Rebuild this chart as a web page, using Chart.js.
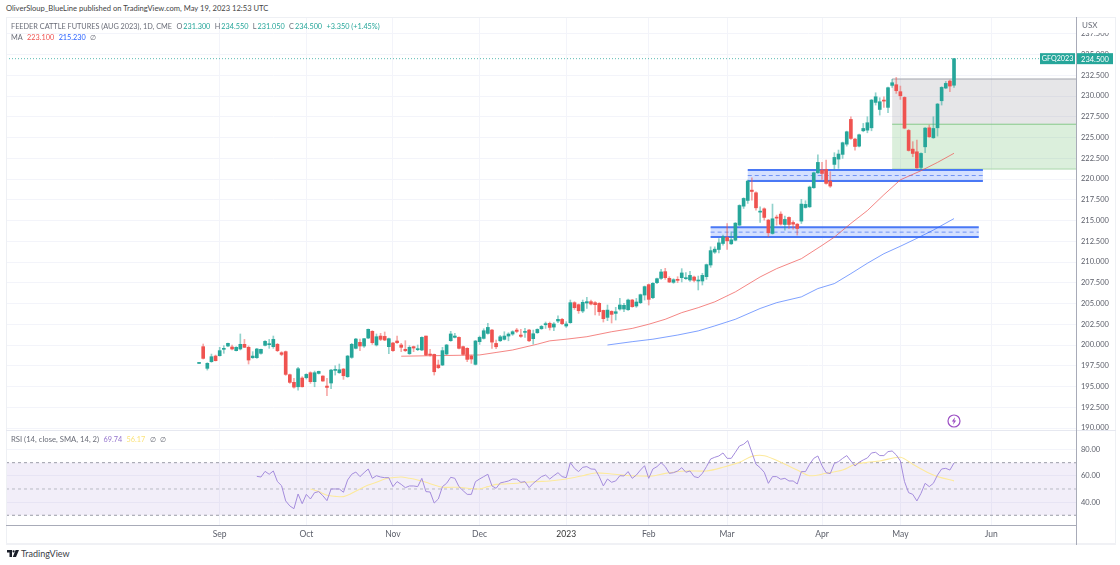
<!DOCTYPE html>
<html>
<head>
<meta charset="utf-8">
<script src="https://cdn.jsdelivr.net/npm/chart.js@4/dist/chart.umd.min.js"></script>
<style>
html, body { margin: 0; padding: 0; background: #fff; width: 1120px; height: 565px; overflow: hidden; }
body { font-family: Lato, sans-serif; color: #6a6d78; position: relative; }
.box { position: absolute; }
.txt { position: absolute; font-size: 7.3px; line-height: 11px; white-space: nowrap; }
.txt span { margin-left: 4.4px; }
.txt span.name { margin-left: 0; }
.txt span.val { margin-left: 1px; color: #26a69a; }
.up { color: #26a69a; }
</style>
</head>
<body>
<div class="txt" style="left:6px;top:3px;font-size:7.6px;color:#444;">OliverSloup_BlueLine published on TradingView.com, May 19, 2023 12:53 UTC</div>

<div class="box" style="left:6px;top:17px;width:1110px;height:414px;"><canvas id="priceChart"></canvas></div>
<div class="box" style="left:6px;top:431px;width:1110px;height:112px;"><canvas id="rsiChart"></canvas></div>

<!-- panel frame -->
<div class="box" style="left:6px;top:17px;width:1109px;height:1px;background:#eef0f4;"></div>
<div class="box" style="left:6px;top:17px;width:1px;height:526px;background:#eef0f4;"></div>
<div class="box" style="left:1115px;top:17px;width:1px;height:526px;background:#eef0f4;"></div>
<div class="box" style="left:6px;top:430px;width:1110px;height:1px;background:#e6e8f0;"></div>
<div class="box" style="left:6px;top:525px;width:1070px;height:1px;background:#a8abb8;"></div>
<div class="box" style="left:6px;top:543px;width:1110px;height:2px;background:#f0f1f5;"></div>
<div class="box" style="left:1076px;top:17px;width:1px;height:528px;background:#a8abb8;"></div>

<div class="box" style="left:1077px;top:18px;width:38px;height:15px;background:#fff;"></div>
<div class="txt" style="left:1082px;top:20px;font-size:8px;">USX</div>

<div class="txt" style="left:11px;top:21px;"><span class="name">FEEDER CATTLE FUTURES (AUG 2023), 1D, CME</span><span>O</span><span class="val">231.300</span><span>H</span><span class="val">234.550</span><span>L</span><span class="val">231.050</span><span>C</span><span class="val">234.500</span><span class="up">+3.350 (+1.45%)</span></div>
<div class="txt" style="left:11px;top:32px;"><span class="name">MA</span><span style="color:#ef5350">223.100</span><span style="color:#2962ff">215.230</span><span>∅</span></div>
<div class="txt" style="left:11px;top:434px;"><span class="name" style="font-size:7.7px">RSI (14, close, SMA, 14, 2)</span><span style="color:#9575cd">69.74</span><span style="color:#fbe37c">56.17</span><span>∅</span><span>∅</span></div>

<!-- bolt badge -->
<svg class="box" style="left:947px;top:414px;" width="14" height="14" viewBox="0 0 14 14">
  <circle cx="7" cy="7" r="6" fill="#fff" stroke="#9c4fc4" stroke-width="1.2"/>
  <path d="M8 3.2 L4.8 7.6 H6.7 L6 10.8 L9.2 6.4 H7.3 Z" fill="#9c4fc4"/>
</svg>

<!-- footer logo -->
<svg class="box" style="left:7px;top:550px;" width="12" height="8" viewBox="0 0 12 8">
  <path d="M0 0 H5 V7 H2.5 V2.5 H0 Z M5.8 7 L8.6 0 H12 L9 7 Z" fill="#1b1f2a"/>
  <circle cx="6.6" cy="1.4" r="1.1" fill="#1b1f2a"/>
</svg>
<div class="txt" style="left:21px;top:548px;font-size:9px;color:#3a3d46;">TradingView</div>

<script>
// Feeder cattle Aug 2023, daily bars
const opens = [
    197.78,199.80,197.19,197.99,198.67,198.71,199.48,199.88,199.76,199.32,
    199.52,200.08,199.72,198.47,198.47,199.0,199.96,200.04,199.8,200.08,
    199.07,199.2,196.42,195.5,194.97,196.02,196.06,196.66,195.58,196.58,
    196.26,195.05,195.42,196.94,196.66,197.1,196.18,198.51,199.6,200.32,
    199.88,200.84,201.65,200.0,201.08,201.04,199.8,200.24,200.48,200.0,
    199.48,198.95,199.8,199.44,199.4,201.08,198.87,198.87,197.59,197.59,
    198.91,200.52,200.92,200.92,199.8,199.6,198.67,197.67,200.4,200.8,
    201.4,201.8,200.19,200.51,200.68,201.08,201.32,201.8,201.2,201.52,
    201.8,200.76,201.48,201.96,202.44,202.61,202.16,202.89,203.09,202.29,
    202.69,205.1,204.86,204.09,205.06,205.22,205.1,205.02,204.17,203.33,
    204.05,203.81,204.33,204.33,204.25,205.42,204.7,205.1,206.02,207.27,
    205.7,207.51,208.03,208.84,208.03,207.55,207.91,208.11,207.99,207.83,
    208.19,207.71,207.71,208.23,209.64,211.19,211.51,212.23,212.96,212.19,
    212.63,214.44,216.73,217.42,218.66,218.34,216.01,216.41,215.05,213.44,
    215.37,215.77,214.52,215.37,214.76,214.56,214.93,216.57,216.65,218.95,
    220.75,221.08,221.16,219.75,221.76,222.4,222.97,224.2,227.18,224.81,
    223.96,225.81,225.89,226.17,229.23,228.38,229.51,228.63,231.28,231.36,
    230.52,229.83,225.85,223.6,223.28,221.39,223.88,226.17,224.97,226.17,
    229.43,230.96,231.8,231.3
];
const highs = [
    197.85,200.12,197.87,198.91,198.79,199.72,199.92,200.24,200.0,199.8,
    201.33,200.68,199.88,199.2,199.6,199.52,200.52,200.68,201.08,200.2,
    199.2,199.28,196.5,195.98,197.3,196.18,196.54,196.78,196.86,196.86,
    196.3,195.98,197.06,197.5,197.71,197.18,198.75,200.2,200.8,200.72,
    200.8,201.93,201.73,201.33,201.41,201.57,200.84,200.32,201.08,200.2,
    200.52,199.92,199.88,200.0,201.0,201.08,199.48,198.91,198.19,199.72,
    200.08,201.65,201.41,201.0,199.88,199.68,198.79,200.56,201.08,201.96,
    202.61,201.88,200.6,201.16,201.6,201.48,201.72,202.0,201.88,202.0,
    201.88,201.8,201.96,202.36,202.77,202.77,202.69,203.53,203.21,202.81,
    205.42,205.22,204.94,205.42,205.74,205.42,205.22,205.1,204.21,204.82,
    204.13,204.54,205.62,205.02,205.54,205.5,205.62,206.14,207.11,207.35,
    207.51,208.07,209.12,209.24,208.23,207.99,208.23,209.2,208.72,208.88,
    208.31,208.31,208.64,209.76,211.83,211.83,212.83,213.24,214.64,213.64,
    214.76,216.9,217.74,219.87,220.15,218.46,216.65,216.53,215.13,216.98,
    215.65,216.05,215.53,215.45,214.97,214.64,217.54,217.38,219.15,220.83,
    222.9,222.0,222.28,220.88,223.17,223.49,224.45,225.77,227.5,224.89,
    225.41,226.7,227.5,229.59,230.39,229.79,229.91,231.08,232.0,232.24,
    231.2,229.91,225.97,224.5,224.69,223.16,226.21,226.5,227.5,229.11,
    231.12,231.76,231.92,234.55
];
const lows = [
    197.75,198.31,196.98,197.91,198.07,198.67,199.0,199.8,199.4,199.28,
    199.4,199.68,197.71,198.39,198.39,198.91,199.88,199.6,199.6,199.2,
    198.71,196.34,195.38,194.81,194.57,194.93,195.9,195.38,194.97,196.5,
    195.62,193.89,194.73,196.38,196.58,195.86,196.1,198.39,199.52,199.32,
    199.72,200.76,200.08,199.88,200.52,200.52,198.95,199.24,200.2,199.2,
    199.2,198.87,199.2,199.32,199.32,198.71,198.67,196.38,197.15,197.51,
    198.83,200.44,200.84,199.52,198.79,197.99,197.79,197.59,200.07,200.72,
    201.32,199.59,199.55,200.43,200.6,200.51,201.16,201.48,200.92,200.92,
    200.4,200.11,201.4,201.88,202.0,201.8,201.72,202.69,202.45,202.12,
    202.61,204.29,203.81,203.89,204.42,204.82,203.61,203.57,202.77,202.93,
    202.65,203.01,204.21,204.01,204.17,204.54,204.54,204.98,205.42,204.82,
    205.58,207.39,207.91,207.91,207.51,207.43,207.51,207.59,207.91,207.67,
    207.59,206.63,207.23,207.91,209.36,211.03,211.11,212.03,211.51,212.11,
    212.55,214.4,216.45,217.06,217.46,216.25,214.76,215.05,213.04,213.36,
    214.44,214.44,213.84,214.04,213.96,213.24,214.64,216.49,216.57,218.87,
    220.67,219.95,219.39,218.99,221.16,221.28,222.48,223.96,224.77,223.48,
    223.88,225.69,225.57,225.81,228.91,227.7,228.63,227.98,231.04,230.31,
    229.59,226.05,223.36,222.68,221.27,221.15,223.16,225.01,224.89,225.17,
    228.91,230.88,230.52,231.05
];
const closes = [
    197.82,198.39,197.79,198.59,198.11,199.32,199.60,200.2,199.52,199.72,
    200.08,199.72,198.19,198.67,199.52,199.48,200.44,200.12,200.68,199.32,
    198.87,196.46,195.5,194.93,197.14,194.97,196.46,195.58,196.66,196.82,
    195.66,194.89,196.98,197.06,197.02,196.3,198.67,200.08,200.72,199.88,
    200.76,201.89,200.28,201.0,200.68,200.6,200.76,199.32,200.28,199.72,
    199.32,199.72,199.64,199.52,200.92,198.79,198.79,196.78,197.27,199.32,
    200.0,201.33,201.08,199.6,198.87,198.27,198.31,200.48,200.92,201.72,
    202.12,200.35,199.79,200.99,201.08,201.32,201.6,201.64,201.04,201.64,
    200.51,201.36,201.88,202.24,202.57,202.12,202.53,203.09,202.57,202.53,
    205.1,204.5,204.13,205.14,205.22,204.94,204.86,204.01,203.17,204.21,
    203.69,204.01,204.82,204.78,205.42,204.62,205.18,206.06,207.03,205.5,
    207.43,207.99,208.8,208.11,207.59,207.87,207.79,208.68,208.11,208.39,
    207.79,207.83,208.39,209.68,211.37,211.55,212.31,213.04,212.55,212.67,
    214.68,216.81,217.66,219.75,218.5,216.53,216.13,215.37,213.52,215.21,
    215.29,214.56,215.13,214.52,214.56,214.04,216.98,216.94,219.03,220.75,
    222.0,220.67,219.47,219.15,222.6,223.01,224.37,225.69,224.89,223.92,
    225.33,226.09,226.78,229.51,229.91,229.31,229.39,231.0,231.6,230.64,
    230.03,226.13,223.44,223.08,221.35,223.08,226.13,225.09,226.09,229.03,
    231.04,231.52,231.2,234.5
];

// moving averages, read at the bar numbers beside them
const ma50Bars = [49,68,72,76,82,85,89,94,100,105,109,113,117,121,125,130,136,140,146,151,154,158,162,166,170,175,179,183];
const ma50Values = [198.65,198.8,199.1,199.4,200.1,200.5,200.7,201.0,201.6,202.0,202.5,203.1,203.9,204.5,205.2,206.4,208.2,209.2,210.4,212.0,213.0,214.65,216.2,218.1,219.9,221.0,222.0,223.1];
const ma100Bars = [99,105,110,116,121,125,130,136,140,146,150,154,158,162,166,170,174,178,183];
const ma100Values = [200.0,200.4,200.7,201.2,201.7,202.3,203.1,204.4,205.1,205.8,206.8,207.4,208.6,209.85,211.0,211.9,212.85,213.85,215.23];

// RSI starts at bar 14
const rsiFirstBar = 14;
const rsiValues = [
    59.6,59.1,63.4,61.2,63.7,55.6,52.5,40.9,37.1,35.0,
    46.2,38.8,45.9,42.4,47.2,48.0,44.9,41.1,50.0,50.0,
    50.0,47.5,56.8,61.2,62.9,59.4,62.4,65.2,58.1,60.1,
    59.1,58.6,58.6,51.8,55.6,53.5,51.0,52.3,52.3,51.8,
    58.1,48.0,47.7,39.3,42.4,51.8,54.3,58.9,58.1,51.8,
    48.7,45.9,45.9,55.6,57.6,59.4,61.2,52.3,50.5,54.6,
    55.3,56.1,57.6,57.4,55.1,55.6,51.0,54.3,56.8,59.4,
    60.6,57.6,60.1,62.4,59.4,58.6,70.0,65.7,63.2,66.5,
    67.0,65.2,65.0,59.4,52.3,57.6,55.1,56.1,60.1,59.9,
    63.2,58.1,60.6,64.4,67.7,58.1,65.2,67.0,70.0,67.0,
    61.9,62.4,63.7,66.2,62.7,63.7,59.4,58.6,61.9,67.0,
    72.8,74.1,75.1,77.4,73.3,73.3,77.9,82.7,84.0,86.8,
    77.9,68.8,66.2,62.7,54.3,59.4,59.4,57.4,58.1,56.1,
    56.1,53.8,63.2,63.2,68.8,73.3,75.1,67.7,62.4,61.7,
    69.5,70.8,73.3,75.4,71.3,67.5,70.3,72.1,73.6,77.4,
    77.9,75.4,75.4,78.4,78.9,75.9,71.3,55.6,47.2,45.9,
    40.9,46.7,54.3,51.8,54.3,60.6,65.2,65.7,64.4,69.74
];
const rsiMaBars = [27,29,31,33,35,37,39,41,43,45,47,49,51,53,55,57,59,61,63,65,68,70,72,74,77,78,82,85,89,93,96,100,105,110,113,118,123,127,131,134,137,141,145,148,152,156,159,162,165,170,173,177,179,183];
const rsiMaValues = [50.0,48.0,45.2,44.4,44.2,46.7,50.0,53.0,55.1,57.6,58.6,59.1,58.1,56.8,55.1,53.0,51.3,51.3,51.3,50.5,50.0,51.8,53.5,53.8,54.3,54.8,55.6,56.1,57.6,60.1,62.2,61.4,60.1,59.9,61.9,63.7,63.7,66.5,70.3,74.8,75.3,70.3,64.4,60.1,61.9,64.4,68.8,70.3,71.3,74.1,68.8,61.9,59.4,56.17];

// time axis
const monthBars = [5,26,47,68,89,109,128,151,170,192];
const monthLabels = ['Sep','Oct','Nov','Dec','2023','Feb','Mar','Apr','May','Jun'];

// price axis
const priceTicks = [190,192.5,195,197.5,200,202.5,205,207.5,210,212.5,215,217.5,220,222.5,225,227.5,230,232.5,235,237.5];
const rsiTicks = [40,60,80];
const rsiLevels = [30,50,70];

// long position tool and the two support bands
const positionFromBar = 168;
const positionTop = 232.05;
const positionEntry = 226.6;
const positionBottom = 221.2;
const bandFromBars = [133,124];
const bandToBars = [190,189];
const bandTops = [221.08,214.2];
const bandBottoms = [219.76,213.0];

const lastPrice = closes[closes.length - 1];
const tickerName = 'GFQ2023';

const GREEN = '#26a69a';
const RED = '#ef5350';
const GRID = '#f3f4fa';
const AXIS_TEXT = '#5d606b';
const X_MIN = -46.8;
const X_MAX = 212.57;
const FONT = 'Lato, sans-serif';

function alpha(hex, a) {
    const r = parseInt(hex.slice(1, 3), 16);
    const g = parseInt(hex.slice(3, 5), 16);
    const b = parseInt(hex.slice(5, 7), 16);
    return `rgba(${r},${g},${b},${a})`;
}

function pairs(bars, values) {
    return bars.map((b, i) => ({ x: b, y: values[i] }));
}

function timeAxis(showLabels) {
    return {
        type: 'linear',
        min: X_MIN,
        max: X_MAX,
        offset: false,
        border: { display: false },
        grid: { color: GRID, drawTicks: false, offset: false },
        afterBuildTicks: scale => { scale.ticks = monthBars.map(v => ({ value: v })); },
        afterFit: scale => {
            scale.height = showLabels ? 18 : 0;
            scale.paddingLeft = 0;
            scale.paddingRight = 0;
        },
        ticks: {
            display: showLabels,
            autoSkip: false,
            maxRotation: 0,
            padding: 4,
            color: ctx => ctx.index === 4 ? '#333' : AXIS_TEXT,
            font: { family: FONT, size: 8.5 },
            callback: (v, i) => monthLabels[i],
        },
    };
}

function valueAxis(min, max, ticks, digits) {
    return {
        position: 'right',
        min,
        max,
        border: { display: false },
        grid: { color: GRID, drawTicks: false },
        afterBuildTicks: scale => { scale.ticks = ticks.map(v => ({ value: v })); },
        afterFit: scale => {
            scale.width = 40;
            scale.paddingTop = 0;
            scale.paddingBottom = 0;
        },
        ticks: {
            autoSkip: false,
            padding: 5,
            color: AXIS_TEXT,
            font: { family: FONT, size: 7.5 },
            callback: v => v.toFixed(digits),
        },
    };
}

const priceOverlays = {
    id: 'priceOverlays',
    beforeDatasetsDraw(chart) {
        const { ctx, chartArea, scales: { x, y } } = chart;
        const fill = (x0, x1, top, bottom, color) => {
            ctx.fillStyle = color;
            ctx.fillRect(x0, y.getPixelForValue(top), x1 - x0, y.getPixelForValue(bottom) - y.getPixelForValue(top));
        };
        const hline = (x0, x1, value, color, width, dash) => {
            const py = y.getPixelForValue(value);
            ctx.beginPath();
            ctx.setLineDash(dash || []);
            ctx.strokeStyle = color;
            ctx.lineWidth = width;
            ctx.moveTo(x0, py);
            ctx.lineTo(x1, py);
            ctx.stroke();
            ctx.setLineDash([]);
        };
        ctx.save();
        const left = x.getPixelForValue(positionFromBar);
        fill(left, chartArea.right, positionTop, positionEntry, 'rgba(120,123,134,0.19)');
        fill(left, chartArea.right, positionEntry, positionBottom, 'rgba(76,175,80,0.2)');
        hline(left, chartArea.right, positionTop, '#a3a5ad', 1);
        hline(left, chartArea.right, positionEntry, '#86c98a', 1);
        hline(left, chartArea.right, positionBottom, '#a9d8ab', 1);

        bandTops.forEach((top, i) => {
            const x0 = x.getPixelForValue(bandFromBars[i]);
            const x1 = x.getPixelForValue(bandToBars[i]);
            const bottom = bandBottoms[i];
            fill(x0, x1, top, bottom, 'rgba(41,98,255,0.2)');
            hline(x0, x1, top, '#4a78f5', 2);
            hline(x0, x1, bottom, '#4a78f5', 2);
            hline(x0, x1, (top + bottom) / 2, '#6f93f5', 1, [4, 3]);
        });
        hline(chartArea.left, chartArea.right, lastPrice, alpha(GREEN, 0.75), 1, [1, 2]);
        ctx.restore();
    },
    afterDraw(chart) {
        const { ctx, chartArea, scales: { y } } = chart;
        const py = y.getPixelForValue(lastPrice);
        ctx.save();
        ctx.fillStyle = GREEN;
        ctx.fillRect(chartArea.right - 36, py - 5.5, 35, 11);
        ctx.fillRect(chartArea.right + 1, py - 5.5, 36, 11);
        ctx.fillStyle = '#fff';
        ctx.textAlign = 'center';
        ctx.textBaseline = 'middle';
        ctx.font = `7.2px ${FONT}`;
        ctx.fillText(tickerName, chartArea.right - 18.5, py + 0.5);
        ctx.font = `7.5px ${FONT}`;
        ctx.fillText(lastPrice.toFixed(3), chartArea.right + 19, py + 0.5);
        ctx.restore();
    },
};

const rsiOverlays = {
    id: 'rsiOverlays',
    beforeDatasetsDraw(chart) {
        const { ctx, chartArea, scales: { y } } = chart;
        const top = y.getPixelForValue(rsiLevels[2]);
        const bottom = y.getPixelForValue(rsiLevels[0]);
        ctx.save();
        ctx.fillStyle = 'rgba(126,87,194,0.1)';
        ctx.fillRect(chartArea.left, top, chartArea.width, bottom - top);
        rsiLevels.forEach((level, i) => {
            const py = y.getPixelForValue(level);
            ctx.beginPath();
            ctx.setLineDash([3, 3]);
            ctx.strokeStyle = i === 1 ? '#b9bac4' : '#9b9da8';
            ctx.lineWidth = 1;
            ctx.moveTo(chartArea.left, py);
            ctx.lineTo(chartArea.right, py);
            ctx.stroke();
        });
        ctx.restore();
    },
};

const candleColors = closes.map((c, i) => c >= opens[i] ? GREEN : RED);

new Chart(document.getElementById('priceChart'), {
    type: 'bar',
    data: {
        datasets: [
            {
                type: 'line',
                data: pairs(ma50Bars, ma50Values),
                borderColor: alpha(RED, 0.7),
                borderWidth: 1,
                pointRadius: 0,
                order: 3,
            },
            {
                type: 'line',
                data: pairs(ma100Bars, ma100Values),
                borderColor: alpha('#2962ff', 0.6),
                borderWidth: 1,
                pointRadius: 0,
                order: 3,
            },
            {
                data: closes.map((c, i) => ({ x: i, y: [lows[i], highs[i]] })),
                backgroundColor: candleColors.map(c => alpha(c, 0.5)),
                barThickness: 1,
                minBarLength: 1,
                grouped: false,
                order: 2,
            },
            {
                data: closes.map((c, i) => ({ x: i, y: [opens[i], c] })),
                backgroundColor: candleColors,
                barThickness: 3,
                minBarLength: 1,
                grouped: false,
                order: 1,
            },
        ],
    },
    options: {
        responsive: true,
        maintainAspectRatio: false,
        animation: false,
        layout: { padding: { bottom: 2 } },
        plugins: { legend: { display: false }, tooltip: { enabled: false } },
        scales: {
            x: timeAxis(false),
            y: valueAxis(189.88, 239.52, priceTicks, 3),
        },
    },
    plugins: [priceOverlays],
});

new Chart(document.getElementById('rsiChart'), {
    type: 'line',
    data: {
        datasets: [
            {
                data: rsiValues.map((v, i) => ({ x: rsiFirstBar + i, y: v })),
                borderColor: '#a48cdc',
                borderWidth: 1,
                pointRadius: 0,
            },
            {
                data: pairs(rsiMaBars, rsiMaValues),
                borderColor: '#fdea9c',
                borderWidth: 1.1,
                pointRadius: 0,
                tension: 0.3,
            },
        ],
    },
    options: {
        responsive: true,
        maintainAspectRatio: false,
        animation: false,
        plugins: { legend: { display: false }, tooltip: { enabled: false } },
        scales: {
            x: timeAxis(true),
            y: valueAxis(22.6, 94.1, rsiTicks, 2),
        },
    },
    plugins: [rsiOverlays],
});
</script>
</body>
</html>
